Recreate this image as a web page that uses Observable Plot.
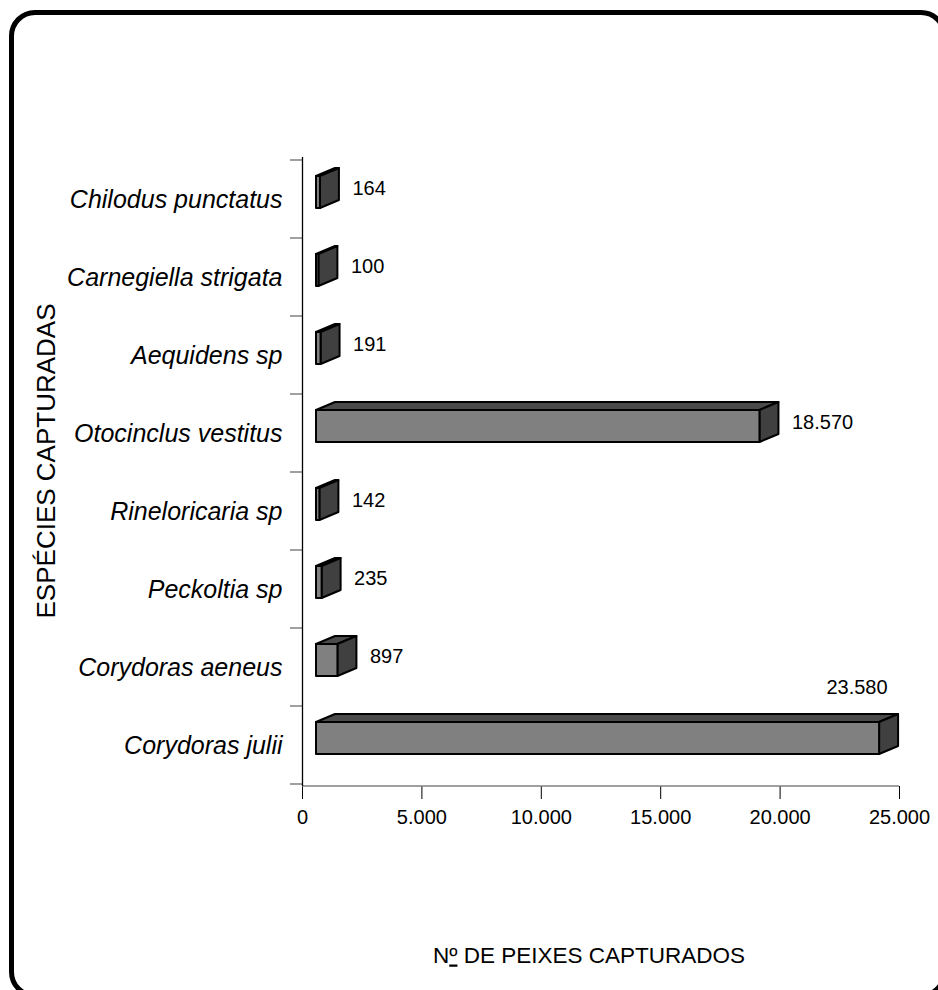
<!DOCTYPE html>
<html><head><meta charset="utf-8">
<script src="https://cdn.jsdelivr.net/npm/d3@7"></script>
<script src="https://cdn.jsdelivr.net/npm/@observablehq/plot@0.6"></script>
<style>
html,body{margin:0;padding:0;background:#fff;overflow:hidden;}
#wrap{position:relative;width:938px;height:990px;overflow:hidden;background:#fff;}
#chart{position:absolute;left:0;top:0;}
#border{position:absolute;left:9px;top:10px;width:938px;height:988px;box-sizing:border-box;border:5.5px solid #000;border-radius:26px;pointer-events:none;}
</style></head><body>
<div id="wrap"><div id="chart"></div><div id="border"></div></div>
<script>
const species = ["Chilodus punctatus","Carnegiella strigata","Aequidens sp","Otocinclus vestitus","Rineloricaria sp","Peckoltia sp","Corydoras aeneus","Corydoras julii"];
const counts = [164,100,191,18570,142,235,897,23580];
const xTicks = [0,5000,10000,15000,20000,25000];
const yTitle = "ESPÉCIES CAPTURADAS";
const xTitlePrefix = "N";
const xTitleOrdinal = "º";
const xTitleRest = " DE PEIXES CAPTURADOS";
const xTitle = xTitlePrefix + xTitleOrdinal + xTitleRest;

const data = species.map((name, i) => ({name, value: counts[i]}));
const ptBR = d3.formatLocale({decimal: ",", thousands: ".", grouping: [3], currency: ["R$", ""]});
const fmt = ptBR.format(",d");
const xMax = xTicks[xTicks.length - 1];
const above = d => d.value > 0.9 * xMax;

const DX = 19, DY = -8, X0 = 14, TOP = 23, BOT = 9;

function bandW(scales, dimensions) {
  const y = scales.y;
  return typeof y.bandwidth === "function" ? y.bandwidth()
    : (dimensions.height - dimensions.marginTop - dimensions.marginBottom) / species.length;
}

function axisLines(index, scales, values, dimensions) {
  const x = scales.x, y = scales.y, bw = bandW(scales, dimensions);
  const yb = dimensions.height - dimensions.marginBottom;
  const g = d3.create("svg:g").attr("stroke", "#808080").attr("stroke-width", 1.5);
  g.append("line").attr("x1", x(xTicks[0])).attr("x2", x(xMax)).attr("y1", yb).attr("y2", yb);
  const y0 = y(species[0]);
  for (let k = 0; k <= species.length; k++) {
    const yy = y0 + k * bw;
    g.append("line").attr("x1", x(0) - 12).attr("x2", x(0)).attr("y1", yy).attr("y2", yy);
  }
  return g.node();
}

function bars3d(index, scales, values, dimensions) {
  const x = scales.x, y = scales.y, bw = bandW(scales, dimensions);
  const g = d3.create("svg:g").attr("stroke", "#000").attr("stroke-width", 2).attr("stroke-linejoin", "round");
  for (const d of data) {
    const c = y(d.name) + bw / 2;
    const xa = x(0) + X0, xb = x(d.value) + X0;
    const t = c - TOP, b = c + BOT;
    g.append("path").attr("fill", "#4a4a4a")
      .attr("d", `M${xa},${t}L${xa + DX},${t + DY}L${xb + DX},${t + DY}L${xb},${t}Z`);
    g.append("path").attr("fill", "#404040")
      .attr("d", `M${xb},${t}L${xb + DX},${t + DY}L${xb + DX},${b + DY}L${xb},${b}Z`);
    g.append("rect").attr("fill", "#808080")
      .attr("x", xa).attr("y", t).attr("width", Math.max(0, xb - xa)).attr("height", b - t);
  }
  return g.node();
}

const plot = Plot.plot({
  width: 938,
  height: 990,
  marginLeft: 302,
  marginRight: 39,
  marginTop: 157,
  marginBottom: 204,
  style: {fontFamily: "'Liberation Sans', Arial, sans-serif", fontSize: "20px", background: "transparent", color: "#000"},
  x: {domain: [0, xMax], ticks: xTicks, tickFormat: fmt, tickSize: 13, tickPadding: 10, label: null},
  y: {type: "band", domain: species, padding: 0, axis: null},
  marks: [
    axisLines,
    Plot.ruleX([0], {stroke: "#000", strokeWidth: 1.3}),
    bars3d,
    Plot.text(species, {y: d => d, text: d => d, frameAnchor: "left", dx: -20, textAnchor: "end", fontSize: 25, fontStyle: "italic", fill: "#000"}),
    Plot.text(data.filter(d => !above(d)), {x: "value", y: "name", text: d => fmt(d.value), dx: 46, dy: -11, textAnchor: "start", fontSize: 20, fill: "#000"}),
    Plot.text(data.filter(above), {x: "value", y: "name", text: d => fmt(d.value), dx: 22, dy: -58, textAnchor: "end", fontSize: 20, fill: "#000"}),
    Plot.text([yTitle], {text: d => d, frameAnchor: "left", dx: -256, dy: -11, rotate: -90, textAnchor: "middle", fontSize: 26, fill: "#000"}),
    Plot.text([xTitle], {text: d => d, frameAnchor: "bottom", dx: -12, dy: 176, textAnchor: "middle", fontSize: 22.5, fill: "#000"})
  ]
});

// underline the ordinal indicator in the x title, as in the original
for (const t of plot.querySelectorAll("text")) {
  if (t.textContent === xTitle) {
    t.textContent = "";
    const ns = "http://www.w3.org/2000/svg";
    const a = document.createElementNS(ns, "tspan"); a.textContent = xTitlePrefix;
    const b = document.createElementNS(ns, "tspan"); b.textContent = xTitleOrdinal;
    b.setAttribute("text-decoration", "underline"); b.style.textDecoration = "underline";
    const c = document.createElementNS(ns, "tspan"); c.textContent = xTitleRest;
    t.append(a, b, c);
  }
}
document.getElementById("chart").appendChild(plot);
</script>
</body></html>
